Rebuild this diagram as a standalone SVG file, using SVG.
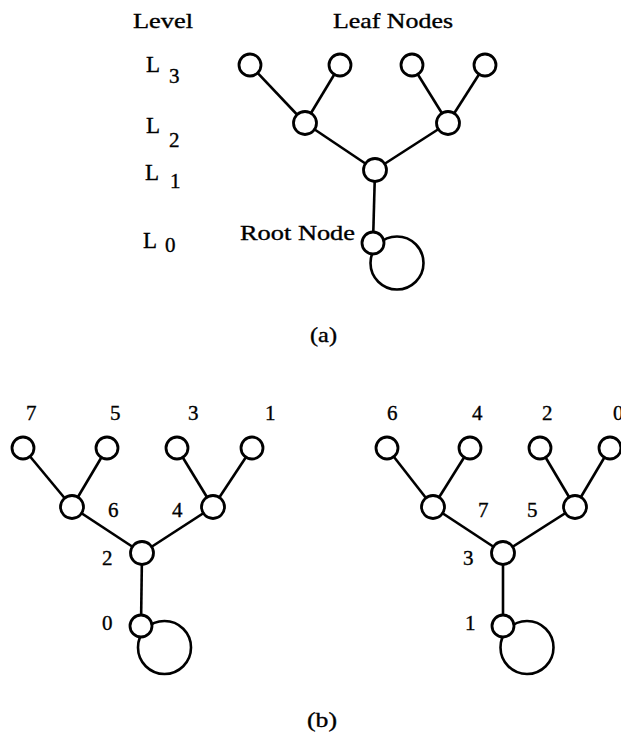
<svg xmlns="http://www.w3.org/2000/svg" width="621" height="736" viewBox="0 0 621 736">
<style>
.e{stroke:#000;stroke-width:2.6;fill:none}
.n{stroke:#000;stroke-width:2.8;fill:#fff}
.lp{stroke:#000;stroke-width:2.6;fill:none}
text{font-family:"Liberation Serif","Times New Roman",serif;fill:#000;stroke:#000;stroke-width:0.35}
.t{font-size:21px}
.L{font-size:23px}
.d{font-size:21px}
</style>
<rect width="621" height="736" fill="#fff"/>
<!-- (a) labels -->
<g id="labels-a">
<text class="t" x="133" y="28" textLength="60" lengthAdjust="spacingAndGlyphs">Level</text>
<text class="t" x="333" y="28" textLength="120" lengthAdjust="spacingAndGlyphs">Leaf Nodes</text>
<text class="L" x="146" y="72">L</text><text class="d" x="169" y="83">3</text>
<text class="L" x="146" y="133">L</text><text class="d" x="169" y="147">2</text>
<text class="L" x="145" y="180">L</text><text class="d" x="170" y="188">1</text>
<text class="L" x="143" y="248">L</text><text class="d" x="165" y="252">0</text>
<text class="t" x="240" y="240" textLength="115" lengthAdjust="spacingAndGlyphs">Root Node</text>
<text class="t" x="310" y="342" textLength="27" lengthAdjust="spacingAndGlyphs">(a)</text>
</g>
<!-- connectors -->
<g id="connectors">
<line class="e" x1="250" y1="65" x2="305" y2="123"/>
<line class="e" x1="340" y1="65" x2="305" y2="123"/>
<line class="e" x1="412" y1="65" x2="448" y2="123"/>
<line class="e" x1="485" y1="65" x2="448" y2="123"/>
<line class="e" x1="305" y1="123" x2="375" y2="170"/>
<line class="e" x1="448" y1="123" x2="375" y2="170"/>
<line class="e" x1="375" y1="170" x2="373" y2="243"/>
<circle class="lp" cx="397" cy="263" r="26.5"/>

<line class="e" x1="23" y1="448" x2="72" y2="507"/>
<line class="e" x1="107" y1="448" x2="72" y2="507"/>
<line class="e" x1="177" y1="448" x2="213" y2="507"/>
<line class="e" x1="252" y1="448" x2="213" y2="507"/>
<line class="e" x1="72" y1="507" x2="142" y2="553"/>
<line class="e" x1="213" y1="507" x2="142" y2="553"/>
<line class="e" x1="142" y1="553" x2="141" y2="626"/>
<circle class="lp" cx="164.5" cy="647.5" r="26.5"/>

<line class="e" x1="387" y1="448" x2="433" y2="507"/>
<line class="e" x1="470" y1="448" x2="433" y2="507"/>
<line class="e" x1="540" y1="448" x2="575" y2="507"/>
<line class="e" x1="610" y1="448" x2="575" y2="507"/>
<line class="e" x1="433" y1="507" x2="503" y2="553"/>
<line class="e" x1="575" y1="507" x2="503" y2="553"/>
<line class="e" x1="503" y1="553" x2="503" y2="626"/>
<circle class="lp" cx="527" cy="647.5" r="26.5"/>
</g>
<!-- (a) nodes -->
<g id="a-l3-0"><circle class="n" cx="250" cy="65" r="11"/></g>
<g id="a-l3-1"><circle class="n" cx="340" cy="65" r="11"/></g>
<g id="a-l3-2"><circle class="n" cx="412" cy="65" r="11"/></g>
<g id="a-l3-3"><circle class="n" cx="485" cy="65" r="11"/></g>
<g id="a-l2-0"><circle class="n" cx="305" cy="123" r="11.5"/></g>
<g id="a-l2-1"><circle class="n" cx="448" cy="123" r="11.5"/></g>
<g id="a-l1"><circle class="n" cx="375" cy="170" r="11.5"/></g>
<g id="a-root"><circle class="n" cx="373" cy="243" r="11"/></g>
<!-- (b) left -->
<g id="bl-7"><circle class="n" cx="23" cy="448" r="11"/><text class="d" x="26" y="420">7</text></g>
<g id="bl-5"><circle class="n" cx="107" cy="448" r="11"/><text class="d" x="110" y="420">5</text></g>
<g id="bl-3"><circle class="n" cx="177" cy="448" r="11"/><text class="d" x="188" y="420">3</text></g>
<g id="bl-1"><circle class="n" cx="252" cy="448" r="11"/><text class="d" x="265" y="420">1</text></g>
<g id="bl-6"><circle class="n" cx="72" cy="507" r="11.5"/><text class="d" x="108" y="517">6</text></g>
<g id="bl-4"><circle class="n" cx="213" cy="507" r="11.5"/><text class="d" x="172" y="517">4</text></g>
<g id="bl-2"><circle class="n" cx="142" cy="553" r="11.5"/><text class="d" x="102" y="565">2</text></g>
<g id="bl-0"><circle class="n" cx="141" cy="626" r="11"/><text class="d" x="102" y="630">0</text></g>
<!-- (b) right -->
<g id="br-6"><circle class="n" cx="387" cy="448" r="11"/><text class="d" x="387" y="420">6</text></g>
<g id="br-4"><circle class="n" cx="470" cy="448" r="11"/><text class="d" x="472" y="420">4</text></g>
<g id="br-2"><circle class="n" cx="540" cy="448" r="11"/><text class="d" x="542" y="420">2</text></g>
<g id="br-0"><circle class="n" cx="610" cy="448" r="11"/><text class="d" x="613" y="420">0</text></g>
<g id="br-7"><circle class="n" cx="433" cy="507" r="11.5"/><text class="d" x="478" y="517">7</text></g>
<g id="br-5"><circle class="n" cx="575" cy="507" r="11.5"/><text class="d" x="527" y="517">5</text></g>
<g id="br-3"><circle class="n" cx="503" cy="553" r="11.5"/><text class="d" x="463" y="565">3</text></g>
<g id="br-1"><circle class="n" cx="503" cy="626" r="11"/><text class="d" x="465" y="630">1</text></g>
<text class="t" x="307" y="727" textLength="30" lengthAdjust="spacingAndGlyphs">(b)</text>
</svg>
